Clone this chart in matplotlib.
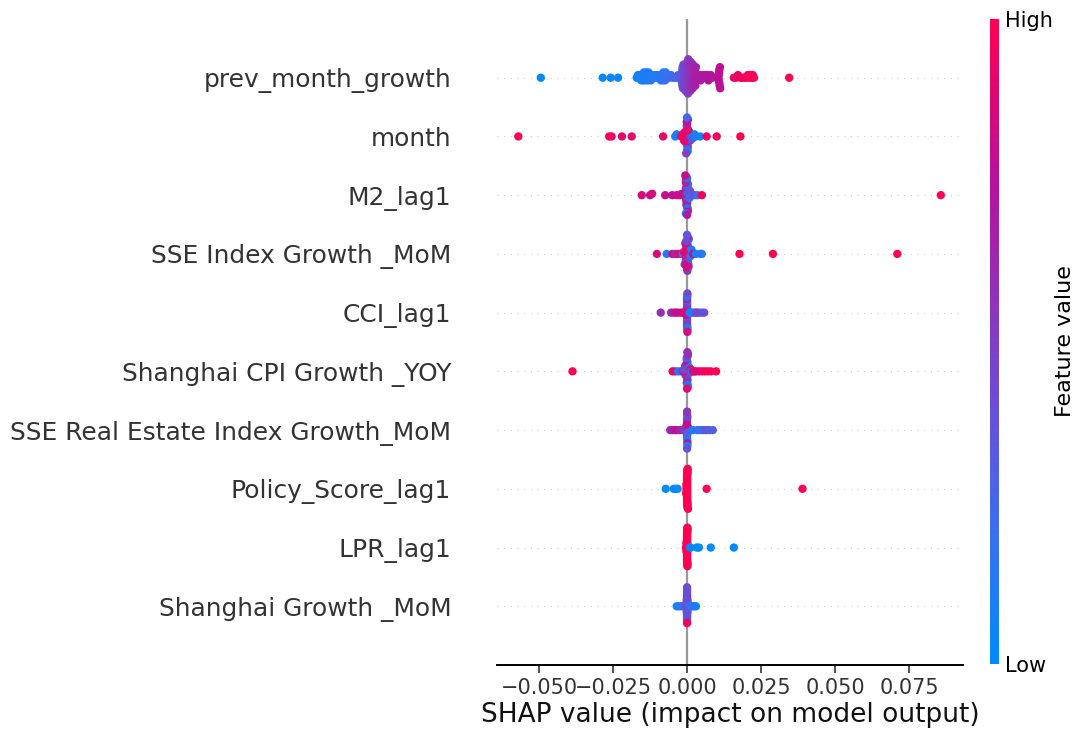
import numpy as np
import matplotlib
matplotlib.use("Agg")
import matplotlib.pyplot as plt
from matplotlib.colors import LinearSegmentedColormap

# ---------------- data (top feature first) ----------------
features = [
    "prev_month_growth",
    "month",
    "M2_lag1",
    "SSE Index Growth _MoM",
    "CCI_lag1",
    "Shanghai CPI Growth _YOY",
    "SSE Real Estate Index Growth_MoM",
    "Policy_Score_lag1",
    "LPR_lag1",
    "Shanghai Growth _MoM",
]

shap_prev_month_growth = [
    # low outliers
    -0.0494, -0.0285, -0.0258, -0.0233,
    # blue cluster
    -0.0170, -0.0166, -0.0162, -0.0158, -0.0155, -0.0152, -0.0150, -0.0148,
    -0.0146, -0.0144, -0.0142, -0.0140, -0.0138, -0.0136, -0.0134, -0.0132,
    -0.0130, -0.0128, -0.0125, -0.0122, -0.0118, -0.0114, -0.0110, -0.0106,
    -0.0102, -0.0098, -0.0094, -0.0090, -0.0088, -0.0086, -0.0084, -0.0082,
    -0.0080, -0.0078, -0.0076, -0.0074, -0.0072, -0.0070, -0.0066, -0.0060,
    -0.0054, -0.0048, -0.0042, -0.0036, -0.0030, -0.0025,
    # central blob
    -0.0020, -0.0019, -0.0018, -0.0018, -0.0017, -0.0017, -0.0016, -0.0016,
    -0.0015, -0.0014,
    -0.0012, -0.0011, -0.0010, -0.0010, -0.0009, -0.0009, -0.0008, -0.0008,
    -0.0007, -0.0007, -0.0006, -0.0005,
    -0.0003, -0.0002, -0.0002, -0.0001, -0.0001, 0.0000, 0.0000, 0.0000,
    0.0001, 0.0001, 0.0002, 0.0002, 0.0003, 0.0004,
    0.0006, 0.0006, 0.0007, 0.0007, 0.0008, 0.0008, 0.0009, 0.0009,
    0.0010, 0.0010, 0.0011, 0.0012,
    0.0014, 0.0015, 0.0015, 0.0016, 0.0016, 0.0017, 0.0017, 0.0018,
    0.0019, 0.0020,
    0.0022, 0.0023, 0.0024, 0.0025, 0.0026, 0.0027, 0.0028,
    0.0030, 0.0032, 0.0034, 0.0036,
    # right taper
    0.0040, 0.0042, 0.0046, 0.0050, 0.0053, 0.0056, 0.0060, 0.0064,
    0.0068, 0.0072, 0.0076, 0.0080, 0.0085,
    # magenta stack
    0.0106, 0.0107, 0.0107, 0.0108, 0.0109, 0.0109, 0.0110, 0.0111, 0.0112,
    # red cluster
    0.0158, 0.0165, 0.0172, 0.0180, 0.0188, 0.0195, 0.0200, 0.0205,
    0.0210, 0.0212, 0.0218, 0.0222, 0.0226,
    0.0345,
]
fv_prev_month_growth = [
    0.00, 0.02, 0.05, 0.03,
    0.05, 0.08, 0.04, 0.10, 0.06, 0.12, 0.08, 0.05,
    0.10, 0.07, 0.12, 0.09, 0.06, 0.11, 0.08, 0.13,
    0.10, 0.07, 0.12, 0.14, 0.09, 0.11, 0.15, 0.10,
    0.13, 0.16, 0.12, 0.14, 0.10, 0.17, 0.13, 0.15,
    0.18, 0.12, 0.16, 0.19, 0.14, 0.20, 0.18, 0.22,
    0.20, 0.24, 0.22, 0.26, 0.28, 0.30,
    0.33, 0.36, 0.34, 0.38, 0.35, 0.37, 0.36, 0.39,
    0.38, 0.40,
    0.40, 0.42, 0.41, 0.43, 0.42, 0.44, 0.43, 0.45,
    0.44, 0.46, 0.45, 0.47,
    0.46, 0.48, 0.47, 0.49, 0.48, 0.50, 0.47, 0.49,
    0.50, 0.51, 0.49, 0.52, 0.51, 0.53,
    0.52, 0.53, 0.54, 0.52, 0.55, 0.54, 0.56, 0.53,
    0.55, 0.57, 0.56, 0.58,
    0.57, 0.58, 0.60, 0.59, 0.61, 0.60, 0.62, 0.61,
    0.63, 0.62,
    0.63, 0.64, 0.65, 0.64, 0.66, 0.65, 0.67,
    0.66, 0.67, 0.68, 0.69,
    0.68, 0.70, 0.69, 0.70, 0.71, 0.70, 0.72, 0.71,
    0.72, 0.73, 0.72, 0.74, 0.73,
    0.76, 0.74, 0.77, 0.75, 0.76, 0.78, 0.75, 0.77, 0.76,
    0.90, 0.92, 0.94, 0.93, 0.95, 0.96, 0.97, 0.96,
    0.98, 0.97, 0.99, 1.00, 0.98,
    1.00,
]

shap_month = [
    -0.0570, -0.0263, -0.0255, -0.0220, -0.0187, -0.0081, -0.0040, -0.0035,
    0.0000, 0.0001, -0.0001, 0.0002, -0.0002, 0.0003, -0.0003, 0.0000,
    0.0004, -0.0004, 0.0001, -0.0001, 0.0005, -0.0005, 0.0002, 0.0006,
    -0.0006, 0.0008, -0.0008, 0.0010, -0.0010, 0.0012, -0.0012, 0.0015,
    -0.0015, 0.0018, -0.0020, 0.0022, 0.0025, 0.0030, 0.0000, 0.0001,
    -0.0001, 0.0002, 0.0003, -0.0003, 0.0000, 0.0004,
    0.0044, 0.0066, 0.0100, 0.0180,
]
fv_month = [
    1.00, 0.95, 0.95, 0.90, 0.92, 0.90, 0.05, 0.10,
    0.50, 0.10, 0.90, 0.40, 0.60, 0.20, 0.80, 0.30,
    0.70, 0.15, 0.55, 0.45, 0.85, 0.35, 0.65, 0.25,
    0.75, 0.10, 0.90, 0.50, 0.95, 0.20, 0.60, 0.30,
    0.85, 0.40, 0.95, 0.10, 0.05, 0.15, 0.60, 0.35,
    0.80, 0.05, 0.70, 0.50, 0.25, 0.90,
    0.05, 0.95, 0.95, 1.00,
]

shap_m2_lag1 = [
    -0.0153, -0.0125, -0.0118, -0.0074, -0.0050, -0.0035, -0.0025, -0.0018,
    -0.0012, -0.0008, -0.0005, -0.0003,
    0.0000, 0.0001, -0.0001, 0.0002, -0.0002, 0.0003, -0.0003, 0.0004,
    -0.0004, 0.0000, 0.0001, -0.0001, 0.0002, -0.0002, 0.0003, 0.0000,
    0.0004, -0.0004, 0.0001, -0.0001, 0.0002, -0.0003, 0.0003, 0.0000,
    0.0001, -0.0002, 0.0004, -0.0004, 0.0006, -0.0006, 0.0008, 0.0010,
    0.0015, 0.0025, 0.0035, 0.0050, 0.0857, 0.0000,
]
fv_m2_lag1 = [
    0.85, 0.80, 0.85, 0.80, 0.75, 0.80, 0.85, 0.70,
    0.80, 0.75, 0.60, 0.85,
    0.30, 0.20, 0.70, 0.10, 0.80, 0.25, 0.50, 0.15,
    0.65, 0.40, 0.05, 0.90, 0.35, 0.60, 0.10, 0.75,
    0.20, 0.85, 0.30, 0.55, 0.10, 0.70, 0.45, 0.15,
    0.80, 0.25, 0.60, 0.05, 0.30, 0.80, 0.20, 0.40,
    0.30, 0.40, 0.20, 0.95, 1.00, 0.70,
]

shap_sse_index = [
    -0.0102, -0.0069, -0.0050, -0.0040, -0.0030, -0.0020, -0.0015,
    0.0000, 0.0001, -0.0001, 0.0002, -0.0002, 0.0003, -0.0003, 0.0004,
    -0.0004, 0.0000, 0.0001, -0.0001, 0.0002, -0.0002, 0.0003, 0.0000,
    0.0004, -0.0004, 0.0001, -0.0001, 0.0005, -0.0005, 0.0006, -0.0006,
    0.0008, -0.0008, 0.0010, -0.0010, 0.0012, 0.0000, 0.0002, -0.0003,
    0.0001, 0.0015, 0.0020,
    0.0030, 0.0045, 0.0050, 0.0177, 0.0290, 0.0710, 0.0000, -0.0001,
]
fv_sse_index = [
    0.85, 0.10, 0.80, 0.60, 0.90, 0.70, 0.20,
    0.50, 0.70, 0.20, 0.80, 0.40, 0.60, 0.90, 0.10,
    0.75, 0.45, 0.85, 0.30, 0.65, 0.55, 0.15, 0.80,
    0.35, 0.95, 0.25, 0.60, 0.70, 0.40, 0.20, 0.85,
    0.50, 0.65, 0.30, 0.90, 0.15, 0.60, 0.75, 0.45,
    0.55, 0.10, 0.80,
    0.10, 0.05, 0.15, 1.00, 1.00, 1.00, 0.35, 0.85,
]

shap_cci_lag1 = [
    -0.0089, -0.0054, -0.0045, -0.0038, -0.0030, -0.0020, -0.0012,
    0.0000, 0.0000, 0.0000, 0.0000, 0.0000, 0.0000, 0.0000, 0.0000,
    0.0000, 0.0000, 0.0000, 0.0000, 0.0000, 0.0000, 0.0000, 0.0000,
    0.0001, 0.0001, 0.0001, 0.0001, 0.0001, -0.0001, -0.0001, -0.0001,
    -0.0001, 0.0002, 0.0002, -0.0002, -0.0002, 0.0003, -0.0003, 0.0005,
    -0.0005, 0.0008,
    0.0010, 0.0018, 0.0025, 0.0035, 0.0042, 0.0050, 0.0058, 0.0012, 0.0030,
]
fv_cci_lag1 = [
    0.60, 0.60, 0.65, 0.85, 0.75, 0.80, 0.90,
    0.90, 0.85, 0.80, 0.75, 0.70, 0.95, 0.60, 0.50,
    0.45, 0.40, 0.35, 0.30, 0.55, 0.65, 0.50, 0.40,
    0.10, 0.05, 0.20, 0.45, 0.85, 0.70, 0.35, 0.90,
    0.55, 0.30, 0.15, 0.80, 0.60, 0.40, 0.75, 0.25,
    0.85, 0.35,
    0.10, 0.30, 0.35, 0.40, 0.30, 0.35, 0.40, 0.05, 0.45,
]

shap_sh_cpi = [
    -0.0387, -0.0049, -0.0040, -0.0030, -0.0020, -0.0015,
    0.0000, 0.0000, 0.0000, 0.0000, 0.0000, 0.0000, 0.0000, 0.0000,
    0.0001, 0.0001, 0.0001, -0.0001, -0.0001, -0.0001, 0.0002, 0.0002,
    -0.0002, -0.0002, 0.0003, 0.0003, -0.0003, 0.0004, -0.0004, 0.0005,
    -0.0005, 0.0006, -0.0006, 0.0008, -0.0008, 0.0010, -0.0010, 0.0012,
    0.0015, 0.0000, 0.0001,
    0.0020, 0.0030, 0.0040, 0.0050, 0.0060, 0.0070, 0.0080, 0.0098, 0.0025,
]
fv_sh_cpi = [
    1.00, 0.95, 0.90, 0.10, 0.20, 0.60,
    0.50, 0.40, 0.30, 0.60, 0.70, 0.20, 0.10, 0.80,
    0.45, 0.05, 0.55, 0.35, 0.65, 0.25, 0.15, 0.50,
    0.75, 0.40, 0.05, 0.60, 0.30, 0.45, 0.85, 0.10,
    0.55, 0.35, 0.70, 0.20, 0.90, 0.50, 0.40, 0.95,
    0.05, 0.90, 0.60,
    0.90, 0.95, 1.00, 0.90, 0.95, 1.00, 0.95, 1.00, 0.85,
]

shap_sse_real_estate = [
    -0.0057, -0.0050, -0.0042, -0.0035, -0.0025, -0.0015,
    0.0000, 0.0000, 0.0000, 0.0000, 0.0000, 0.0000, 0.0000, 0.0000,
    0.0001, 0.0001, 0.0001, -0.0001, -0.0001, -0.0001, 0.0002, 0.0002,
    -0.0002, -0.0002, 0.0003, -0.0003, 0.0004, -0.0004, 0.0005, -0.0005,
    0.0006, -0.0006, 0.0008, -0.0008, 0.0010, -0.0010, 0.0012, 0.0000,
    0.0001, -0.0001, 0.0002, 0.0000, 0.0000,
    0.0020, 0.0035, 0.0045, 0.0055, 0.0065, 0.0075, 0.0087,
]
fv_sse_real_estate = [
    0.60, 0.65, 0.70, 0.80, 0.65, 0.60,
    0.50, 0.60, 0.40, 0.70, 0.30, 0.65, 0.20, 0.55,
    0.10, 0.45, 0.75, 0.35, 0.60, 0.25, 0.15, 0.50,
    0.70, 0.40, 0.05, 0.55, 0.30, 0.65, 0.20, 0.75,
    0.10, 0.60, 0.35, 0.50, 0.15, 0.55, 0.25, 0.45,
    0.05, 0.80, 0.30, 0.55, 0.40,
    0.05, 0.25, 0.10, 0.30, 0.35, 0.30, 0.30,
]

shap_policy_score = [
    -0.0072, -0.0045, -0.0038, -0.0032,
    0.0000, 0.0000, 0.0000, 0.0000, 0.0000, 0.0000, 0.0000, 0.0000,
    0.0000, 0.0000, 0.0000, 0.0000, 0.0000, 0.0000, 0.0000, 0.0000,
    0.0000, 0.0000, 0.0000, 0.0000, 0.0000, 0.0000, 0.0000, 0.0000,
    0.0001, 0.0001, 0.0001, 0.0001, 0.0001, 0.0001, 0.0001, 0.0001,
    -0.0001, -0.0001, -0.0001, -0.0001, -0.0001, -0.0001, 0.0002, 0.0002,
    -0.0002, -0.0002, 0.0003, -0.0003,
    0.0066, 0.0390,
]
fv_policy_score = [
    0.00, 0.00, 0.05, 0.00,
    1.00, 1.00, 1.00, 1.00, 1.00, 1.00, 1.00, 1.00,
    1.00, 1.00, 1.00, 1.00, 1.00, 1.00, 1.00, 1.00,
    1.00, 1.00, 1.00, 1.00, 1.00, 1.00, 1.00, 1.00,
    1.00, 1.00, 1.00, 1.00, 1.00, 1.00, 1.00, 1.00,
    1.00, 1.00, 1.00, 1.00, 1.00, 1.00, 1.00, 1.00,
    1.00, 1.00, 1.00, 1.00,
    1.00, 1.00,
]

shap_lpr_lag1 = [
    0.0000, 0.0000, 0.0000, 0.0000, 0.0000, 0.0000, 0.0000, 0.0000,
    0.0000, 0.0000, 0.0000, 0.0000, 0.0000, 0.0000, 0.0000, 0.0000,
    0.0000, 0.0000, 0.0000, 0.0000, 0.0000, 0.0000, 0.0000, 0.0000,
    0.0001, 0.0001, 0.0001, 0.0001, 0.0001, 0.0001, 0.0001, 0.0001,
    -0.0001, -0.0001, -0.0001, -0.0001, -0.0001, -0.0001, -0.0002, -0.0002,
    0.0002, 0.0002, -0.0003, 0.0003,
    0.0010, 0.0033, 0.0040, 0.0080, 0.0158, 0.0012,
]
fv_lpr_lag1 = [
    1.00, 1.00, 1.00, 1.00, 1.00, 1.00, 1.00, 1.00,
    1.00, 1.00, 1.00, 1.00, 1.00, 1.00, 1.00, 1.00,
    1.00, 1.00, 1.00, 1.00, 1.00, 1.00, 1.00, 1.00,
    1.00, 1.00, 1.00, 1.00, 1.00, 1.00, 1.00, 1.00,
    1.00, 1.00, 1.00, 1.00, 1.00, 1.00, 1.00, 1.00,
    1.00, 1.00, 1.00, 1.00,
    0.00, 0.00, 0.00, 0.00, 0.00, 0.05,
]

shap_sh_growth = [
    -0.0035, -0.0028, -0.0020, -0.0012,
    0.0000, 0.0000, 0.0000, 0.0000, 0.0000, 0.0000, 0.0000, 0.0000,
    0.0000, 0.0000, 0.0000, 0.0000, 0.0000, 0.0000, 0.0000, 0.0000,
    0.0001, 0.0001, 0.0001, 0.0001, 0.0001, 0.0001, -0.0001, -0.0001,
    -0.0001, -0.0001, -0.0001, -0.0001, 0.0002, 0.0002, -0.0002, -0.0002,
    0.0003, -0.0003, 0.0005, -0.0005, 0.0000, 0.0001, -0.0001, 0.0000,
    0.0010, 0.0015, 0.0020, 0.0025, 0.0030, 0.0008,
]
fv_sh_growth = [
    0.05, 0.10, 0.15, 0.20,
    0.40, 0.35, 0.45, 0.40, 0.38, 0.42, 0.36, 0.44,
    0.40, 0.90, 0.38, 0.42, 0.35, 0.40, 0.45, 0.37,
    0.40, 0.38, 0.42, 0.44, 0.36, 0.40, 0.39, 0.41,
    0.43, 0.37, 0.40, 0.38, 0.15, 0.40, 0.35, 0.42,
    0.40, 0.10, 0.38, 0.40, 0.95, 0.40, 0.38, 0.42,
    0.10, 0.05, 0.15, 0.10, 0.05, 0.20,
]

shap_rows = [shap_prev_month_growth, shap_month, shap_m2_lag1, shap_sse_index,
             shap_cci_lag1, shap_sh_cpi, shap_sse_real_estate, shap_policy_score,
             shap_lpr_lag1, shap_sh_growth]
fv_rows = [fv_prev_month_growth, fv_month, fv_m2_lag1, fv_sse_index,
           fv_cci_lag1, fv_sh_cpi, fv_sse_real_estate, fv_policy_score,
           fv_lpr_lag1, fv_sh_growth]

xticks = [-0.050, -0.025, 0.000, 0.025, 0.050, 0.075]

# ---------------- colormap (shap red_blue approximation) ----------------
cmap = LinearSegmentedColormap.from_list(
    "red_blue",
    [(0.00, "#008bfb"), (0.20, "#3a6ff0"), (0.40, "#6a4fd6"),
     (0.55, "#8a37bb"), (0.75, "#b8119a"), (1.00, "#ff0052")])

# ---------------- figure ----------------
fig = plt.figure(figsize=(10.78, 7.31), dpi=100)
ax = fig.add_axes([497 / 1078, (731 - 665) / 731, (963 - 497) / 1078, (665 - 19) / 731])

row_height = 0.4
n = len(features)
ax.axvline(0, color="#999999", zorder=-1, lw=1.6)
for i, (sv, fv) in enumerate(zip(shap_rows, fv_rows)):
    pos = n - 1 - i
    ax.axhline(y=pos, color="#cccccc", lw=0.8, dashes=(1, 5), zorder=-1)
    shaps = np.asarray(sv, dtype=float)
    vals = np.asarray(fv, dtype=float)
    N = len(shaps)
    nbins = 100
    quant = np.round(nbins * (shaps - shaps.min()) / (shaps.max() - shaps.min() + 1e-8))
    inds = np.argsort(quant, kind="stable")
    layer = 0
    last_bin = -1
    ys = np.zeros(N)
    for ind in inds:
        if quant[ind] != last_bin:
            layer = 0
        ys[ind] = np.ceil(layer / 2) * ((layer % 2) * 2 - 1)
        layer += 1
        last_bin = quant[ind]
    ys *= 0.9 * (row_height / np.max(ys + 1))
    ax.scatter(shaps, pos + ys, c=vals, cmap=cmap, vmin=0, vmax=1,
               s=36, linewidth=0, alpha=1, zorder=3)

ax.set_ylim(-1, n)
ax.set_xlim(-0.0642, 0.0932)
ax.set_yticks(range(n))
ax.set_yticklabels(features[::-1], fontsize=17.9, color="#333333")
ax.tick_params(axis="y", length=0, pad=33)
ax.set_xticks(xticks)
ax.set_xticklabels([f"{t:.3f}".replace("-", "\u2212") for t in xticks])
ax.tick_params(axis="x", labelsize=15, colors="#333333", length=6, width=1.2)
for s in ["right", "top", "left"]:
    ax.spines[s].set_visible(False)
ax.spines["bottom"].set_linewidth(1.4)
ax.set_xlabel("SHAP value (impact on model output)", fontsize=19, color="#111111", labelpad=3)

# ---------------- colorbar ----------------
cax = fig.add_axes([990 / 1078, (731 - 664) / 731, 9 / 1078, (664 - 19) / 731])
sm = matplotlib.cm.ScalarMappable(cmap=cmap, norm=matplotlib.colors.Normalize(0, 1))
cb = fig.colorbar(sm, cax=cax, ticks=[0, 1])
cb.set_ticklabels(["Low", "High"])
cb.ax.tick_params(labelsize=15, length=0, pad=4)
cb.outline.set_visible(False)
cb.set_label("Feature value", size=16, labelpad=2)

fig.savefig("out.png", dpi=100)
